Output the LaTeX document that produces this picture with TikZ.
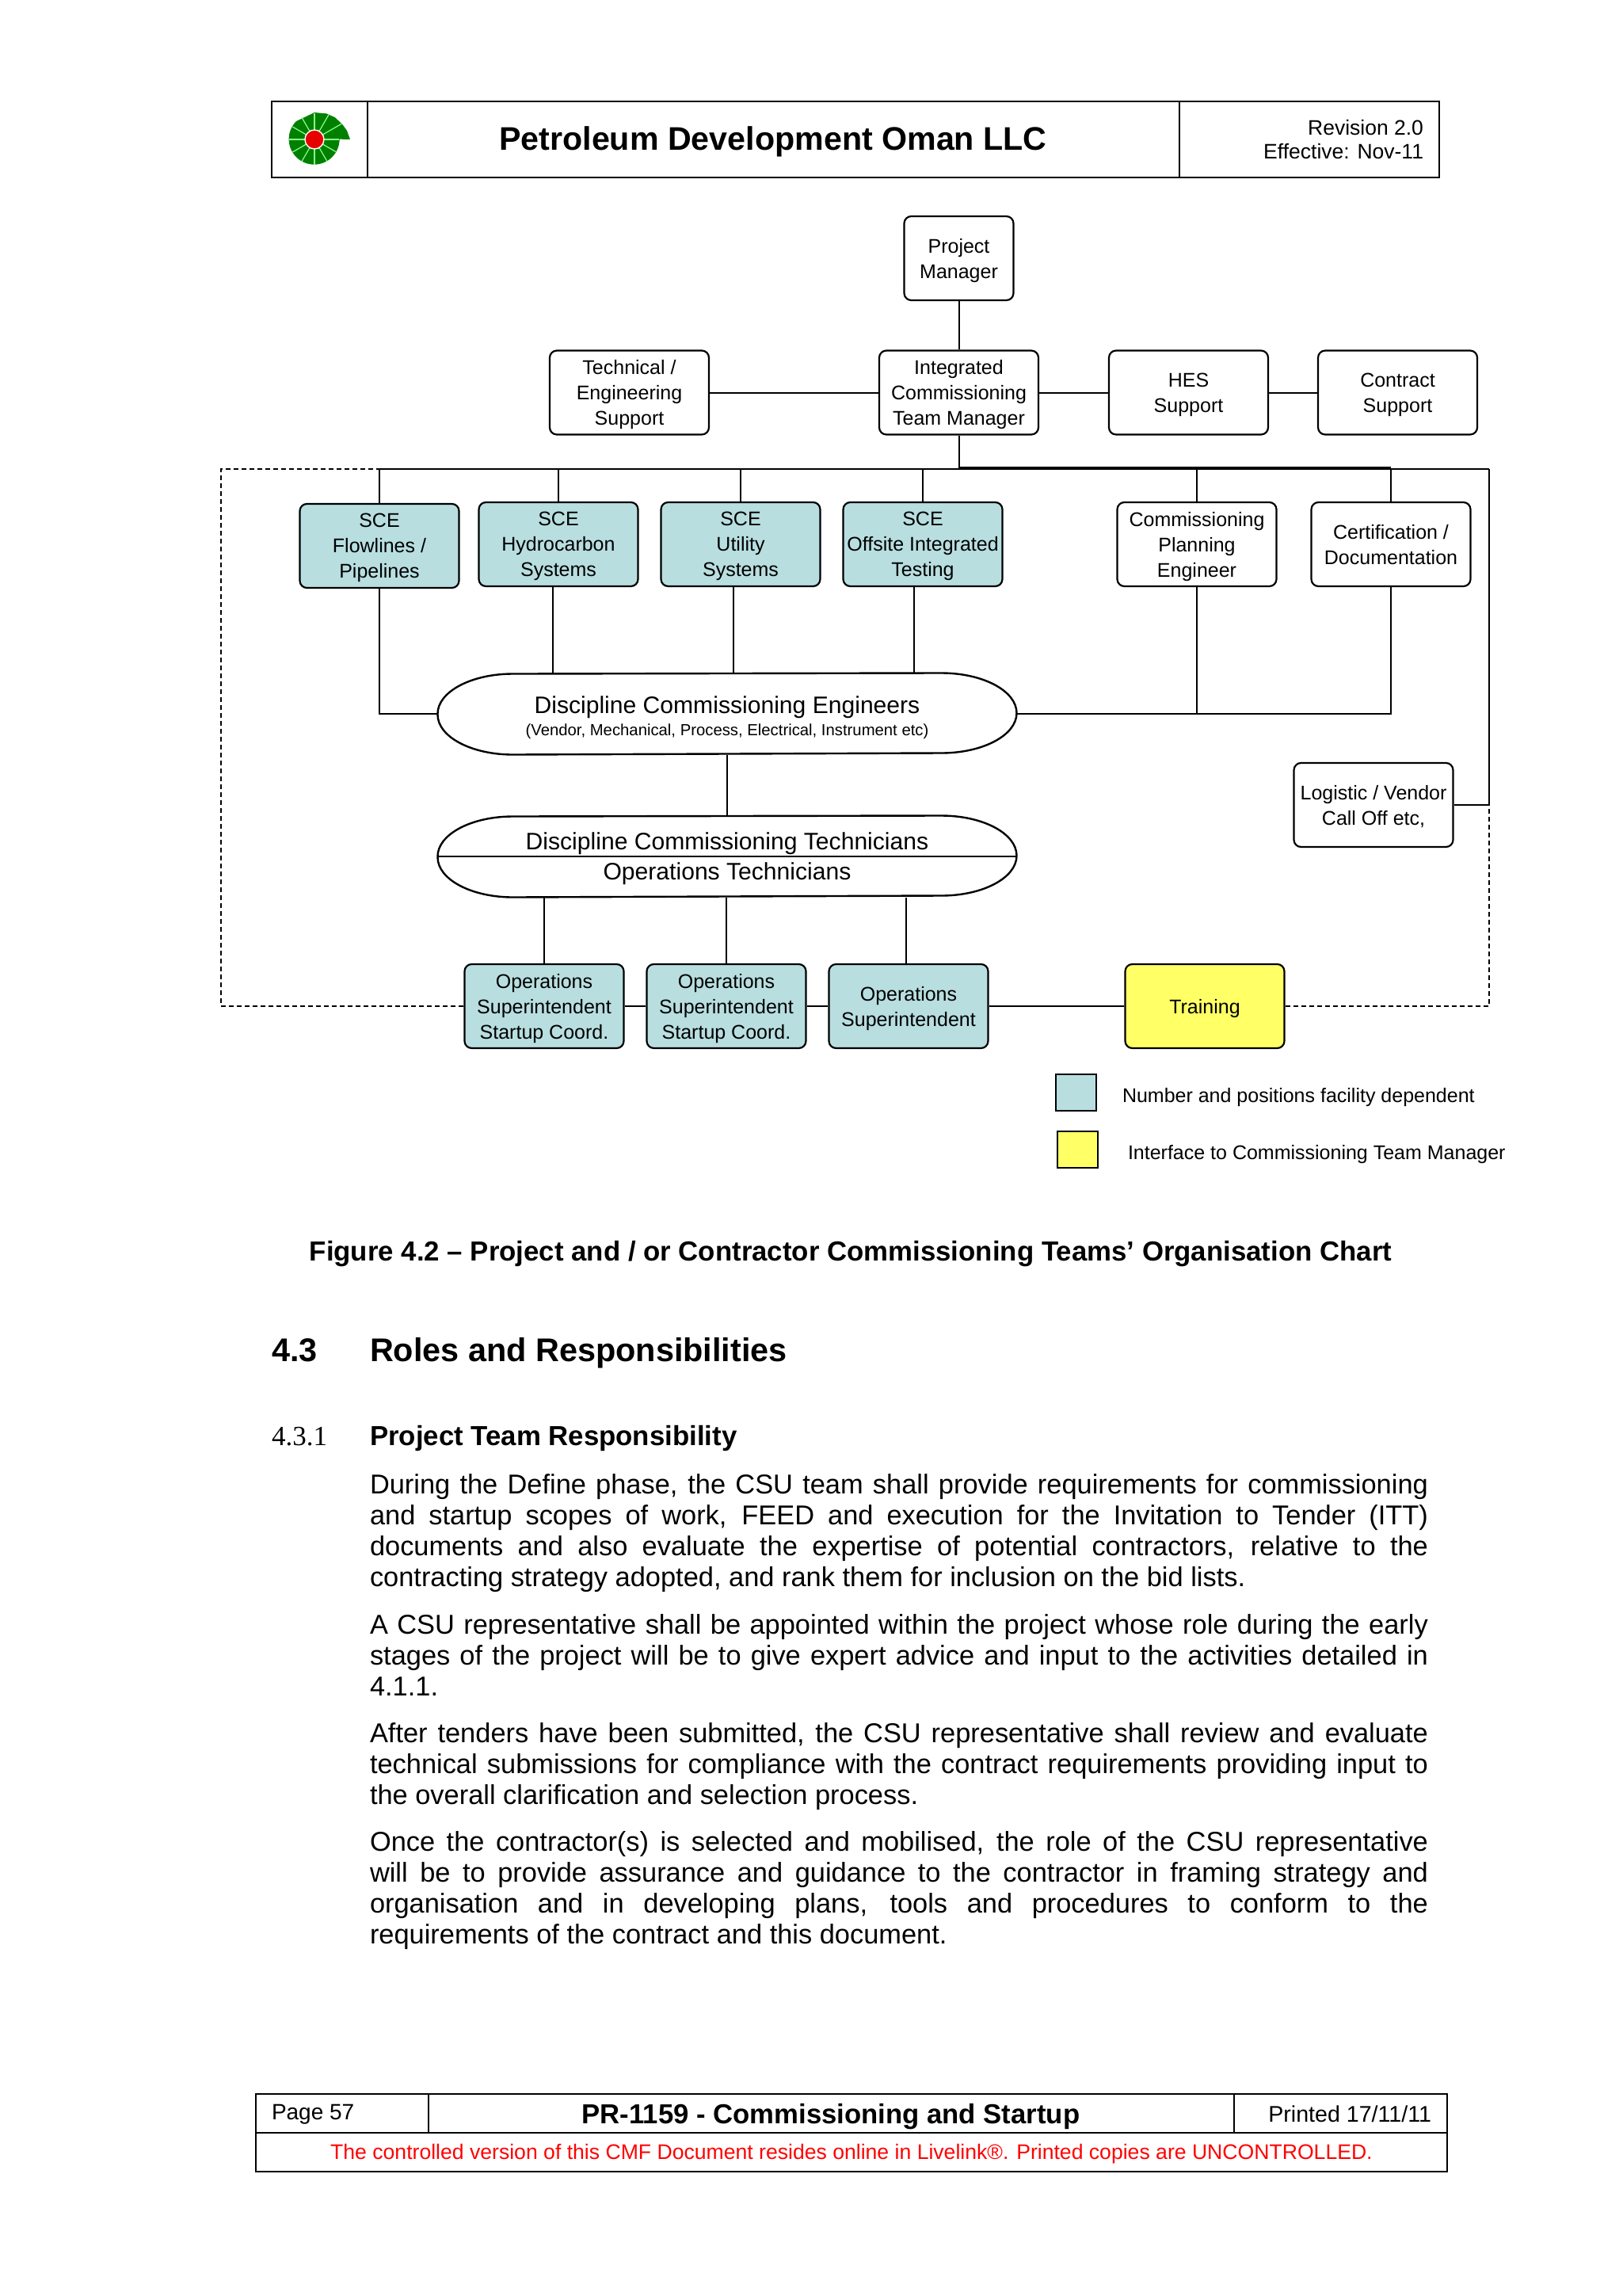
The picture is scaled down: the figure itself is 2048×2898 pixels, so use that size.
\documentclass[tikz,border=0pt]{standalone}
\usepackage{fontspec}
\setmainfont{Liberation Sans}
\newfontfamily\serifnum{Liberation Serif}
\definecolor{boxteal}{RGB}{184,222,224}
\definecolor{boxyellow}{RGB}{255,255,102}
\definecolor{logogreen}{RGB}{0,128,0}
\definecolor{logored}{RGB}{230,0,0}
\newcommand{\pilloutline}[1]{\draw[line width=2.4pt] (#1.west)
	arc[start angle=180, end angle=270, x radius=95, y radius=50.5] -- ([xshift=-95pt]#1.north east)
	arc[start angle=270, end angle=450, x radius=95, y radius=50.5] -- ([xshift=95pt]#1.south west)
	arc[start angle=90, end angle=180, x radius=95, y radius=50.5] -- cycle;}
\begin{document}
\begin{tikzpicture}[
	x=1pt, y=-1pt,
	every path/.style={line width=2pt},
	plainnode/.style={rectangle, draw, rounded corners=9pt, line width=2.2pt, minimum width=201pt, minimum height=106pt, inner sep=0pt, align=center, font=\fontsize{25}{32}\selectfont, text depth=-1.7pt},
	tealnode/.style={plainnode, fill=boxteal},
	yellownode/.style={plainnode, fill=boxyellow},
	pillnode/.style={rectangle, minimum width=729pt, minimum height=101pt, inner sep=0pt, align=center},
	keynode/.style={rectangle, draw, line width=2pt, minimum width=51pt, minimum height=46pt},
	keytext/.style={anchor=west, inner sep=0pt, font=\fontsize{25}{30}\selectfont},
	framenode/.style={rectangle, draw, line width=2.2pt, inner sep=0pt, anchor=north west},
	pagetext/.style={anchor=north west, inner sep=0pt, text width=1336pt, align=justify, font=\fontsize{34.4}{38.8}\selectfont, execute at begin node={\hyphenpenalty=10000\exhyphenpenalty=10000\tolerance=9000\emergencystretch=40pt}},
	linkdash/.style={line width=2pt, dash pattern=on 6pt off 4pt},
]
\useasboundingbox (0,0) rectangle (2048,2898);

% page header
\node[framenode, minimum width=1474pt, minimum height=96pt] (header) at (342,127) {};
\coordinate (headone) at (464,127);
\coordinate (headtwo) at (1489,127);
\draw (headone) -- (headone |- header.south);
\draw (headtwo) -- (headtwo |- header.south);
\node[font=\fontsize{41.2}{48}\selectfont\bfseries] (company) at (976,179) {Petroleum Development Oman LLC};
\node[anchor=east, inner sep=0pt, align=right, font=\fontsize{26.5}{30}\selectfont] (revision) at (1798,176) {Revision 2.0\\Effective: Nov-11};

% logo
\begin{scope}[shift={(397,176)}, y=1pt]
	\fill[logogreen] (0:45) -- (15:42.5) -- (29:40) -- (47:38) -- (65:36) -- (90:34) -- (135:32.5)
		arc[start angle=135, end angle=360, radius=32] -- cycle;
	\foreach \a/\r in {0/31,30/40,60/36,90/33,120/32,150/32,180/32,210/32,240/32,270/32,300/32,330/31}
		\draw[green!45!white, line width=1.2pt] (0,0) -- (\a:\r);
	\draw[draw=white, fill=logored, line width=1.4pt] (0,0) circle (12);
\end{scope}

% top of the chart
\node[plainnode, minimum width=138pt] (pm) at (1210.5,326) {Project\\Manager};
\node[plainnode] (itm) at (1210.5,495.5) {Integrated\\Commissioning\\Team Manager};
\node[plainnode] (tes) at (794.5,495.5) {Technical /\\Engineering\\Support};
\node[plainnode] (hes) at (1500.5,495.5) {HES\\Support};
\node[plainnode] (con) at (1764.5,495.5) {Contract\\Support};

\draw (pm.south)--(itm.north);
\draw (tes.east)--(itm.west);
\draw (itm.east)--(hes.west);
\draw (hes.east)--(con.west);

% second row
\node[tealnode] (flow) at (479,689) {SCE\\Flowlines /\\Pipelines};
\node[tealnode] (hydro) at (705,687) {SCE\\Hydrocarbon\\Systems};
\node[tealnode] (util) at (935,687) {SCE\\Utility\\Systems};
\node[tealnode] (off) at (1165,687) {SCE\\Offsite Integrated\\Testing};
\node[plainnode] (plan) at (1511,687) {Commissioning\\Planning\\Engineer};
\node[plainnode] (cert) at (1756,687) {Certification /\\Documentation};

\coordinate (busc) at (1210.5,592);
\coordinate (busr) at (1880,592);
\coordinate (dashl) at (279,592);
\draw (itm.south)--(busc);
\draw (flow.north |- busc)--(busr);
\draw ([yshift=2pt]busc)--([yshift=2pt]cert.north |- busc);
\draw (flow.north)--(flow.north |- busc);
\draw (hydro.north)--(hydro.north |- busc);
\draw (util.north)--(util.north |- busc);
\draw (off.north)--(off.north |- busc);
\draw (plan.north)--(plan.north |- busc);
\draw (cert.north)--(cert.north |- busc);

% the two pills
\node[pillnode] (dce) at (918,901) {\rule{0pt}{32pt}{\fontsize{30.1}{36}\selectfont Discipline Commissioning Engineers}\\[6pt]{\fontsize{20.3}{24}\selectfont (Vendor, Mechanical, Process, Electrical, Instrument etc)}};
\node[pillnode] (dct) at (918,1081) {};
\pilloutline{dce}
\pilloutline{dct}
\node[inner sep=0pt, font=\fontsize{30.1}{36}\selectfont] (dcttext) at (918,1065) {Discipline Commissioning Technicians};
\node[inner sep=0pt, font=\fontsize{30.1}{36}\selectfont] (optext) at (918,1103) {Operations Technicians};

\draw (flow.south)--(flow.south |- dce.west)--(dce.west);
\draw ([xshift=-7pt]hydro.south)--([xshift=-7pt]hydro.south |- dce.north);
\draw ([xshift=-9pt]util.south)--([xshift=-9pt]util.south |- dce.north);
\draw ([xshift=-11pt]off.south)--([xshift=-11pt]off.south |- dce.north);
\draw (dce.east)--(cert.south |- dce.east)--(cert.south);
\draw (plan.south)--(plan.south |- dce.east);
\draw (dce.south)--(dct.north);
\draw (dct.west)--(dct.east);

% bottom row
\node[tealnode] (opsa) at (687,1270) {Operations\\Superintendent\\Startup Coord.};
\node[tealnode] (opsb) at (917,1270) {Operations\\Superintendent\\Startup Coord.};
\node[tealnode] (opsc) at (1147,1270) {Operations\\Superintendent};
\node[yellownode] (train) at (1521,1270) {Training};
\node[plainnode] (logi) at (1734,1016) {Logistic / Vendor\\Call Off etc,};

\draw (opsa.north)--(opsa.north |- dct.south);
\draw (opsb.north)--(opsb.north |- dct.south);
\draw ([xshift=-3pt]opsc.north)--([xshift=-3pt]opsc.north |- dct.south);
\draw (opsa.east)--(opsb.west);
\draw (opsb.east)--(opsc.west);
\draw (opsc.east)--(train.west);
\draw (busr)--(busr |- logi.east)--(logi.east);
\draw[linkdash] (train.east)-|(busr |- logi.east);
\draw[linkdash] (opsa.west)-|(dashl)--(flow.north |- busc);

% key
\node[keynode, fill=boxteal] (keya) at (1358,1379) {};
\node[keynode, fill=boxyellow] (keyb) at (1360,1451) {};
\node[keytext] (keyatext) at (1416,1385) {Number and positions facility dependent};
\node[keytext] (keybtext) at (1423,1457) {Interface to Commissioning Team Manager};

% text of the page
\node[font=\fontsize{34.8}{40}\selectfont\bfseries] (caption) at (1074,1583) {Figure 4.2 – Project and / or Contractor Commissioning Teams’ Organisation Chart};
\node[anchor=west, inner sep=0pt, font=\fontsize{41.4}{46}\selectfont\bfseries] (secnum) at (342,1704) {4.3};
\node[anchor=west, inner sep=0pt, font=\fontsize{41.4}{46}\selectfont\bfseries] (sectitle) at (466,1708) {Roles and Responsibilities};
\node[anchor=west, inner sep=0pt, font=\fontsize{35}{40}\selectfont\serifnum] (subnum) at (342,1813) {4.3.1};
\node[anchor=west, inner sep=0pt, font=\fontsize{34.8}{40}\selectfont\bfseries] (subtitle) at (466,1815) {Project Team Responsibility};

\node[pagetext] (parone) at (466,1860) {During the Define phase, the CSU team shall provide requirements for commissioning\linebreak and startup scopes of work, FEED and execution for the Invitation to Tender (ITT)\linebreak documents and also evaluate the expertise of potential contractors, relative to the\linebreak contracting strategy adopted, and rank them for inclusion on the bid lists.};
\node[pagetext] (partwo) at (466,2037) {A CSU representative shall be appointed within the project whose role during the early stages of the project will be to give expert advice and input to the activities detailed in 4.1.1.};
\node[pagetext] (parthree) at (466,2174) {After tenders have been submitted, the CSU representative shall review and evaluate technical submissions for compliance with the contract requirements providing input to the overall clarification and selection process.};
\node[pagetext] (parfour) at (466,2311) {Once the contractor(s) is selected and mobilised, the role of the CSU representative will be to provide assurance and guidance to the contractor in framing strategy and\linebreak organisation and in developing plans, tools and procedures to conform to the\linebreak requirements of the contract and this document.};

% page footer
\node[framenode, minimum width=1504pt, minimum height=98pt] (footer) at (322,2642) {};
\coordinate (footmid) at (322,2692);
\coordinate (footone) at (541,2642);
\coordinate (foottwo) at (1558,2642);
\draw (footmid)--(footer.east |- footmid);
\draw (footone)--(footone |- footmid);
\draw (foottwo)--(foottwo |- footmid);
\node[anchor=west, inner sep=0pt, font=\fontsize{28}{32}\selectfont] (pagenum) at (342,2669) {Page 57};
\node[font=\fontsize{34.7}{40}\selectfont\bfseries] (docname) at (1049,2672) {PR-1159 - Commissioning and Startup};
\node[anchor=east, inner sep=0pt, font=\fontsize{28.6}{32}\selectfont] (printed) at (1808,2668) {Printed 17/11/11};
\node[text=red, font=\fontsize{26.6}{32}\selectfont] (notice) at (1075,2719) {The controlled version of this CMF Document resides online in Livelink®. Printed copies are UNCONTROLLED.};

\end{tikzpicture}
\end{document}
